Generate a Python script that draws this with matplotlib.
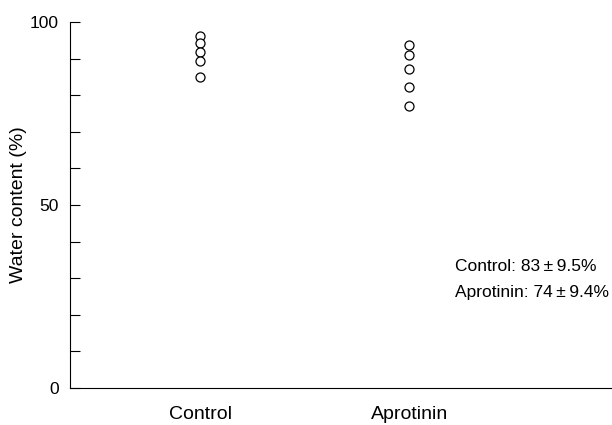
import matplotlib
matplotlib.use("Agg")
import matplotlib.pyplot as plt

plt.rcParams["font.family"] = ["Liberation Sans", "DejaVu Sans"]

groups = ["Control", "Aprotinin"]
control_vals = [96.3, 94.2, 91.7, 89.3, 84.9]
aprotinin_vals = [93.7, 91.1, 87.1, 82.3, 77.0]
summary = ["Control: 83\u2009\u00b1\u20099.5%", "Aprotinin: 74\u2009\u00b1\u20099.4%"]

fig = plt.figure(figsize=(6.12, 4.25), dpi=100)
ax = fig.add_axes([0.1144, 0.087, 0.8856, 0.861])

for i, vals in enumerate([control_vals, aprotinin_vals]):
    ax.plot([i + 1] * len(vals), vals, linestyle="none", marker="o",
            markersize=6.5, markerfacecolor="white", markeredgecolor="black",
            markeredgewidth=0.9)

ax.set_xlim(0.378, 2.97)
ax.set_ylim(0, 100)
ax.set_xticks([1, 2])
ax.set_xticklabels(groups, fontsize=14)
ax.tick_params(axis="x", length=0, pad=13)
ax.set_yticks([0, 50, 100])
ax.set_yticks(range(0, 101, 10), minor=True)
ax.tick_params(axis="y", which="both", direction="in", length=7, width=0.8,
               labelsize=12.5)
ax.tick_params(axis="y", which="major", pad=8)
ax.set_ylabel("Water content (%)", fontsize=14, labelpad=2)

for s in ["top", "right"]:
    ax.spines[s].set_visible(False)
for s in ["left", "bottom"]:
    ax.spines[s].set_linewidth(0.8)

ax.text(2.219, 33.1, summary[0], fontsize=12.5, va="center", ha="left")
ax.text(2.219, 26.2, summary[1], fontsize=12.5, va="center", ha="left")

fig.savefig("out.png", dpi=100, facecolor="white")
